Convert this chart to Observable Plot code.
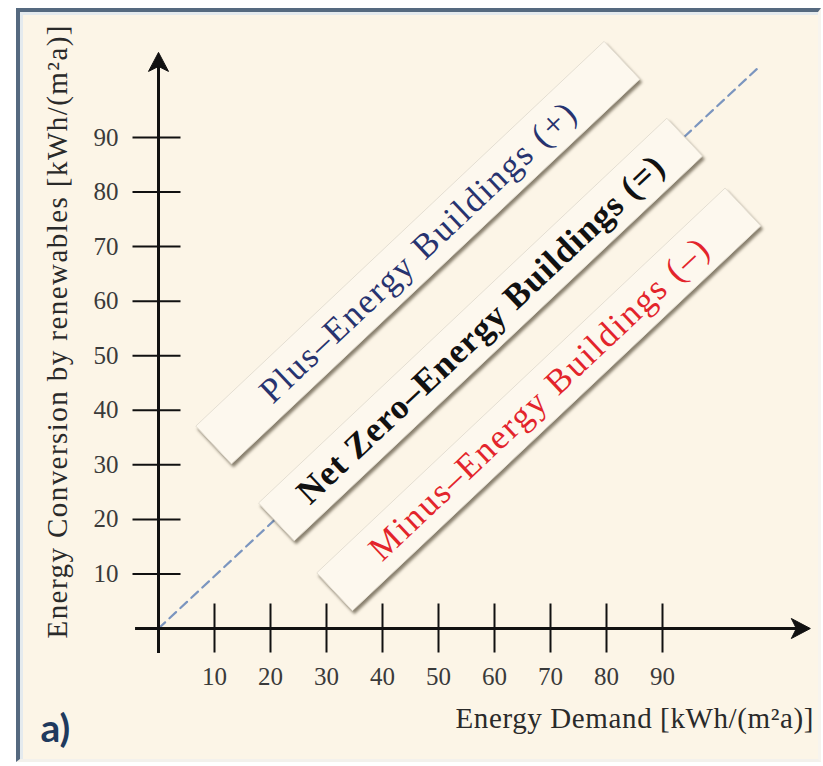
<!DOCTYPE html>
<html>
<head>
<meta charset="utf-8">
<script src="https://cdn.jsdelivr.net/npm/d3@7"></script>
<script src="https://cdn.jsdelivr.net/npm/@observablehq/plot@0.6"></script>
<style>
  html, body { margin: 0; padding: 0; background: #ffffff; width: 823px; height: 766px; overflow: hidden; }
  #frame {
    position: absolute; left: 16px; top: 8px; width: 805px; height: 754px;
    box-sizing: border-box; background: #fcf5e7;
    border-top: 4px solid #55697f; border-left: 4px solid #55697f;
    border-right: 3px solid #f7f4ee; border-bottom: 3px solid #f3f1ec;
    box-shadow: inset 3px 3px 0 #e4eaee;
  }
  #chart { position: absolute; left: 0; top: 0; }
</style>
</head>
<body>
<div id="frame"></div>
<div id="chart"></div>
<script>
// ---- data ----
const xTicks = [10, 20, 30, 40, 50, 60, 70, 80, 90];
const yTicks = [10, 20, 30, 40, 50, 60, 70, 80, 90];
const xTickLabels = ["10", "20", "30", "40", "50", "60", "70", "80", "90"];
const yTickLabels = ["10", "20", "30", "40", "50", "60", "70", "80", "90"];

// balance line (dashed), read endpoints
const balanceX = [0, 107];
const balanceY = [0, 102.7];

// axis extents (tail and arrow tip) in data units
const xAxisExtent = [-4.1, 114.5];
const yAxisExtent = [-4.6, 104];
const xArrowTip = [116.4];
const yArrowTip = [105.6];

// zone labels and their centres (data units)
const zoneLabels = ["Plus–Energy Buildings (+)", "Net Zero–Energy Buildings (=)", "Minus–Energy Buildings (–)"];
const zoneX = [46.3, 57.5, 67.9];
const zoneY = [68.9, 54.8, 42.0];

const xTitle = "Energy Demand [kWh/(m²a)]";
const yTitle = "Energy Conversion by renewables [kWh/(m²a)]";
const panelTag = "a)";

// ---- styles ----
const zoneColors = ["#27336f", "#111111", "#e3242b"];
const zoneWeights = ["normal", "bold", "normal"];
const angle = 43.3;
const serif = "Liberation Serif, Times New Roman, serif";
const boxFill = "#fdf8ee";
// rendered text lengths (px) to match the reference's wider typeface
const textLengths = new Map([
  [zoneLabels[0], 420], [zoneLabels[1], 490], [zoneLabels[2], 452],
  [xTitle, 358], [yTitle, 613]
]);

// ---- custom symbols ----
const boxSymbol = {
  draw(ctx) {
    const a = angle * Math.PI / 180;
    const L = 561 / 2, T = 26;
    const ux = Math.cos(a), uy = -Math.sin(a);
    const vx = Math.sin(a), vy = Math.cos(a);
    ctx.moveTo(-L * ux + T * vx, -L * uy + T * vy);
    ctx.lineTo(L * ux + T * vx, L * uy + T * vy);
    ctx.lineTo(L * ux - T * vx, L * uy - T * vy);
    ctx.lineTo(-L * ux - T * vx, -L * uy - T * vy);
    ctx.closePath();
  }
};
const vTick = { draw(ctx) { ctx.moveTo(0, -25); ctx.lineTo(0, 24); } };
const hTick = { draw(ctx) { ctx.moveTo(-26, 0); ctx.lineTo(22, 0); } };
const upArrow = { draw(ctx) { ctx.moveTo(0, 0); ctx.lineTo(10, 19); ctx.lineTo(0, 14); ctx.lineTo(-10, 19); ctx.closePath(); } };
const rightArrow = { draw(ctx) { ctx.moveTo(0, 0); ctx.lineTo(-19, -10); ctx.lineTo(-14, 0); ctx.lineTo(-19, 10); ctx.closePath(); } };

const balance = balanceX.map((x, i) => ({x, y: balanceY[i]}));
const zones = zoneLabels.map((label, i) => ({label, x: zoneX[i], y: zoneY[i]}));

const zoneTextMarks = zones.map((z, i) => Plot.text([z], {
  x: "x", y: "y", text: "label", rotate: -angle,
  textAnchor: "middle", lineAnchor: "middle",
  fontFamily: serif, fontSize: 35, fontWeight: zoneWeights[i], fill: zoneColors[i]
}));

const chart = Plot.plot({
  width: 823,
  height: 766,
  marginLeft: 158, marginRight: 161, marginTop: 137, marginBottom: 138,
  style: {background: "transparent", overflow: "visible"},
  x: {domain: [0, 90], axis: null},
  y: {domain: [0, 90], axis: null},
  marks: [
    Plot.line(balance, {x: "x", y: "y", stroke: "#7b95bf", strokeWidth: 2.2, strokeDasharray: "9,6"}),
    Plot.dot(zones, {x: "x", y: "y", symbol: boxSymbol, fill: boxFill, stroke: "#e4ded2", strokeWidth: 1}),
    ...zoneTextMarks,
    Plot.ruleY([0], {x1: xAxisExtent[0], x2: xAxisExtent[1], stroke: "#111", strokeWidth: 3}),
    Plot.ruleX([0], {y1: yAxisExtent[0], y2: yAxisExtent[1], stroke: "#111", strokeWidth: 3}),
    Plot.dot(xTicks, {x: d => d, y: 0, symbol: vTick, stroke: "#111", strokeWidth: 2, fill: "none"}),
    Plot.dot(yTicks, {x: 0, y: d => d, symbol: hTick, stroke: "#111", strokeWidth: 2, fill: "none"}),
    Plot.dot(xArrowTip, {x: d => d, y: 0, symbol: rightArrow, fill: "#111", stroke: "#111", strokeWidth: 1}),
    Plot.dot(yArrowTip, {x: 0, y: d => d, symbol: upArrow, fill: "#111", stroke: "#111", strokeWidth: 1}),
    Plot.text(xTicks, {x: d => d, y: 0, text: (d, i) => xTickLabels[i], dy: 48, lineAnchor: "middle", textAnchor: "middle",
      fontFamily: serif, fontSize: 25, fill: "#3a3a3a"}),
    Plot.text(yTicks, {x: 0, y: d => d, text: (d, i) => yTickLabels[i], dx: -40, lineAnchor: "middle", textAnchor: "end",
      fontFamily: serif, fontSize: 25, fill: "#3a3a3a"}),
    Plot.text([xTitle], {frameAnchor: "bottom-right", text: d => d, dx: 151, dy: 90, textAnchor: "end", lineAnchor: "middle",
      fontFamily: serif, fontSize: 29, fill: "#2a2a2a"}),
    Plot.text([yTitle], {frameAnchor: "left", text: d => d, dx: -101, dy: -51, rotate: -90, textAnchor: "middle", lineAnchor: "middle",
      fontFamily: serif, fontSize: 29, fill: "#2a2a2a"}),
    Plot.text([panelTag], {frameAnchor: "bottom-left", text: d => d, dx: -118, dy: 101, textAnchor: "start", lineAnchor: "middle",
      fontFamily: "Lato, Open Sans, sans-serif", fontSize: 39, fontWeight: "bold", fill: "#1f3a5e"})
  ]
});

// widen text to the reference's measured lengths
chart.querySelectorAll("text").forEach(t => {
  const L = textLengths.get(t.textContent);
  if (L) { t.setAttribute("textLength", L); t.setAttribute("lengthAdjust", "spacing"); }
});
// soft drop shadow under the zone boxes
chart.querySelectorAll(`g[fill="${boxFill}"]`).forEach(g => {
  g.style.filter = "drop-shadow(2px 3px 1.5px rgba(60, 50, 30, 0.6))";
});
document.getElementById("chart").appendChild(chart);
</script>
</body>
</html>
